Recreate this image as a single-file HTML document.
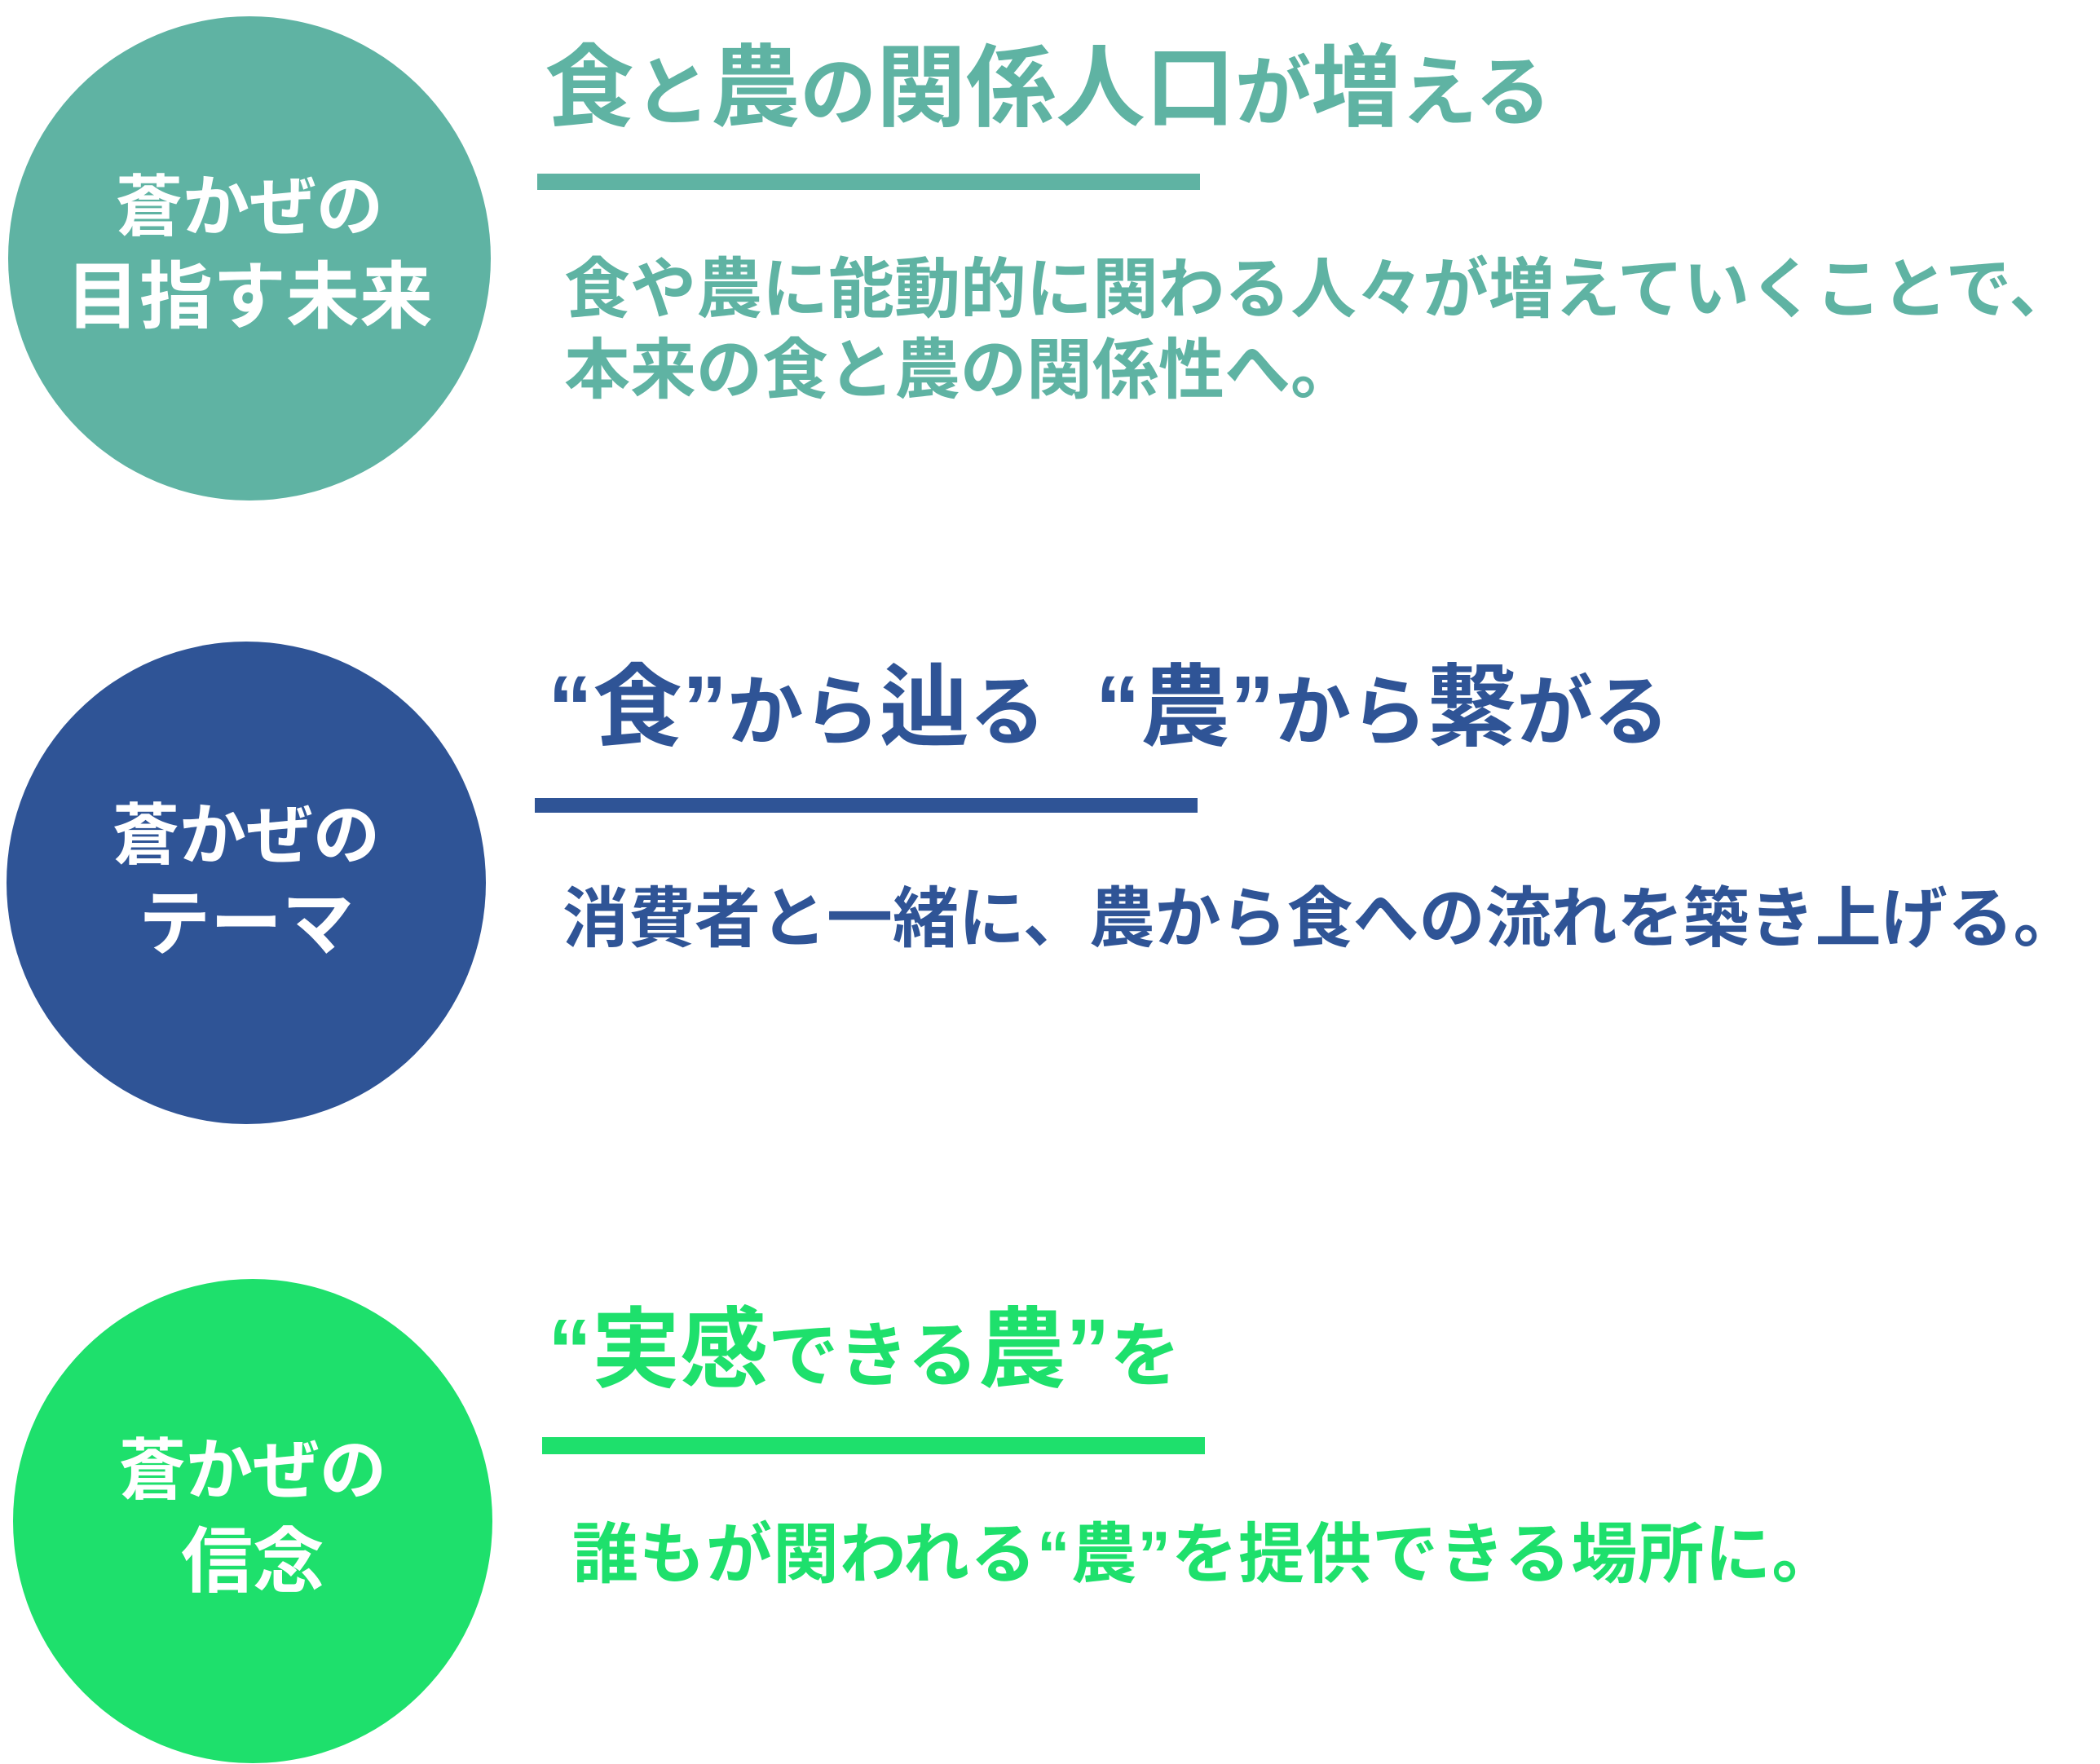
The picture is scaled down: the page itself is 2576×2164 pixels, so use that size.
<!DOCTYPE html>
<html><head><meta charset="utf-8"><style>
html,body{margin:0;padding:0;background:#fff}
body{width:2576px;height:2164px;position:relative;overflow:hidden;font-family:"Liberation Sans","Noto Sans CJK JP",sans-serif;font-weight:700}
.c{position:absolute;border-radius:50%}
.t{position:absolute;white-space:nowrap;line-height:1}
.ct{position:absolute;white-space:nowrap;line-height:1;color:#fff;text-align:center;width:600px}
.bar{position:absolute}
.s{font-size:0.85em}
.m{font-size:0.85em}
.q{font-size:0.8em}
</style></head><body>
<div class="c" style="left:10px;top:20px;width:592px;height:594px;background:#5fb3a3"></div>
<div class="ct" style="left:6px;top:214px;font-size:82px">蒼かぜの</div>
<div class="ct" style="left:6px;top:320px;font-size:90px">目指す未来</div>
<div class="t" style="left:668px;top:54px;font-size:110px;color:#5fb3a3">食<span class="s">と</span>農<span class="s">の</span>関係人口<span class="s">が</span>増<span class="s">える</span></div>
<div class="bar" style="left:659px;top:213px;width:813px;height:20px;background:#5fb3a3"></div>
<div class="t" style="left:692px;top:316px;font-size:81px;color:#5fb3a3">食や農に能動的に関わる人々が増えていくことで、</div>
<div class="t" style="left:692px;top:415px;font-size:81px;color:#5fb3a3">本来の食と農の関係性へ。</div>

<div class="c" style="left:8px;top:787px;width:588px;height:592px;background:#2f5496"></div>
<div class="ct" style="left:2px;top:985px;font-size:82px">蒼かぜの</div>
<div class="ct" style="left:2px;top:1090px;font-size:88px">テーマ</div>
<div class="t" style="left:672px;top:814px;font-size:110px;color:#2f5496">“食”<span class="m">から</span>辿<span class="m">る</span>&nbsp;&nbsp;“農”<span class="m">から</span>繋<span class="m">がる</span></div>
<div class="bar" style="left:656px;top:979px;width:813px;height:18px;background:#2f5496"></div>
<div class="t" style="left:690px;top:1088px;font-size:81px;color:#2f5496">消費者と一緒に、農から食への流れを築き上げる。</div>

<div class="c" style="left:16px;top:1569px;width:588px;height:594px;background:#1ee06c"></div>
<div class="ct" style="left:10px;top:1764px;font-size:82px">蒼かぜの</div>
<div class="ct" style="left:10px;top:1872px;font-size:88px">信念</div>
<div class="t" style="left:672px;top:1602px;font-size:108px;color:#1ee06c">“実感<span class="q">できる</span>農”<span class="q">を</span></div>
<div class="bar" style="left:665px;top:1763px;width:813px;height:21px;background:#1ee06c"></div>
<div class="t" style="left:702px;top:1868px;font-size:81px;letter-spacing:1px;color:#1ee06c">誰もが関われる“農”を提供できる場所に。</div>
</body></html>
